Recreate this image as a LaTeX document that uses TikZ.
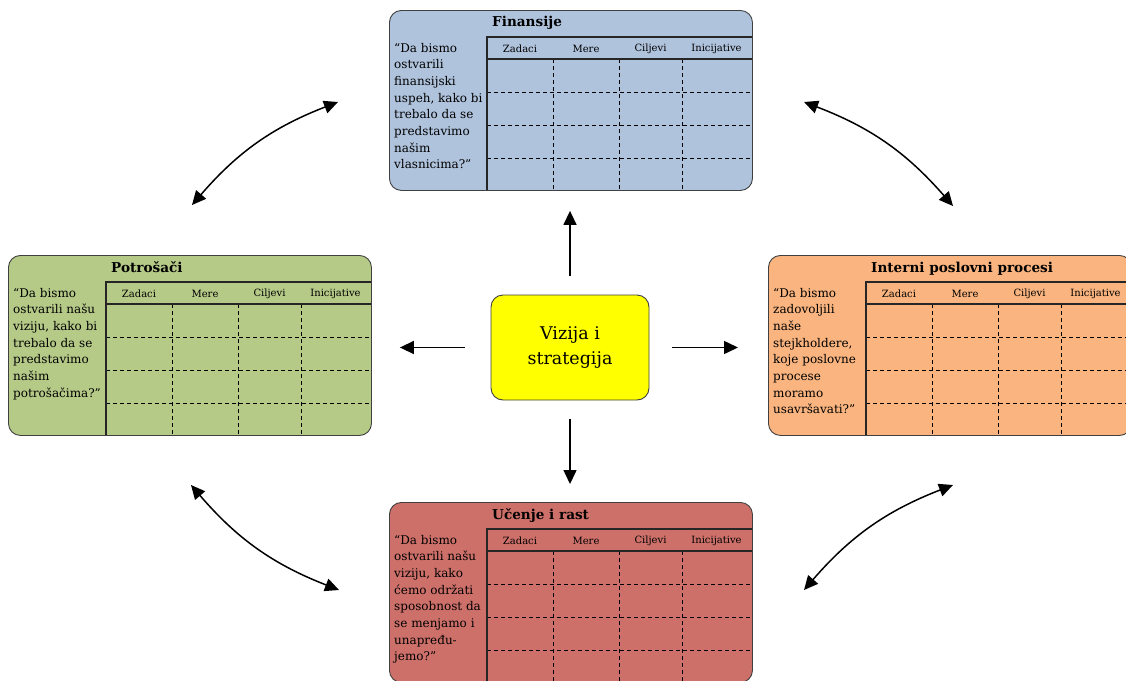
\documentclass[tikz,border=0pt]{standalone}
\usepackage{fontspec}
\setmainfont{DejaVu Serif}
\usetikzlibrary{arrows.meta}

\definecolor{finblue}{HTML}{B0C3DD}
\definecolor{potgreen}{HTML}{B6CA88}
\definecolor{intorange}{HTML}{F9B47F}
\definecolor{ucred}{HTML}{CD706A}
\definecolor{rimgray}{HTML}{404040}
\definecolor{visyellow}{HTML}{FFFF00}

\tikzset{
  panel/.style={draw=rimgray, line width=0.9pt, rounded corners=12pt,
    minimum width=363pt, minimum height=180pt, anchor=north west, inner sep=0pt},
  ptitle/.style={anchor=base west, inner sep=0pt,
    font=\fontsize{13.6}{17}\selectfont\bfseries},
  pquestion/.style={anchor=base west, inner sep=0pt,
    font=\fontsize{12}{16.7}\selectfont},
  phead/.style={anchor=center, inner sep=0pt,
    font=\fontsize{10}{12}\selectfont},
  tablerule/.style={line width=1.1pt, draw=black!85},
  tablegrid/.style={dash pattern=on 4pt off 3pt, line width=0.8pt},
  vision/.style={draw=rimgray, line width=0.9pt, rounded corners=12pt,
    fill=visyellow, minimum width=158pt, minimum height=105pt,
    align=center, inner sep=0pt, font=\fontsize{17.5}{25}\selectfont},
  link/.style={line width=1.5pt, -{Triangle[length=14pt,width=13pt]}},
  twoway/.style={line width=1.5pt,
    {Triangle[length=14pt,width=13pt]}-{Triangle[length=14pt,width=13pt]}},
}

% One scorecard perspective: rounded box, title, question and the
% Zadaci/Mere/Ciljevi/Inicijative table with three dashed rows.
% #1 name, #2 x, #3 y (top left corner), #4 fill, #5 title, #6 question
\newcommand\bscpanel[6]{%
  \begin{scope}[shift={(#2,#3)}]
    \node[panel, fill=#4] (#1) at (0,0) {};
    \node[ptitle] (#1-title) at (103,17) {#5};
    \node[pquestion] (#1-text) at (5,42) {\parbox[t]{96pt}{\raggedright #6}};
    \draw[tablegrid] (164,49) -- (164,180)
                     (230,49) -- (230,180)
                     (293,49) -- (293,180)
                     (98,82) -- (362.5,82)
                     (98,115) -- (362.5,115)
                     (98,148) -- (362.5,148);
    \draw[tablerule] (98,180) -- (98,27) -- (362.5,27);
    \draw[tablerule] (98,49) -- (362.5,49);
    \node[phead] (#1-h1) at (131,38.5) {Zadaci};
    \node[phead] (#1-h2) at (197,38.5) {Mere};
    \node[phead] (#1-h3) at (261.5,38.5) {Ciljevi};
    \node[phead] (#1-h4) at (327.5,38.5) {Inicijative};
  \end{scope}}

\begin{document}
\begin{tikzpicture}[x=1pt, y=-1pt]
  \useasboundingbox (0,0) rectangle (1126,680);

  \bscpanel{fin}{389}{10}{finblue}{Finansije}
    {“Da bismo\\ostvarili\\finansijski\\uspeh, kako bi\\trebalo da se\\predstavimo\\našim\\vlasnicima?”}
  \bscpanel{pot}{8}{255}{potgreen}{Potrošači}
    {“Da bismo\\ostvarili našu\\viziju, kako bi\\trebalo da se\\predstavimo\\našim\\potrošačima?”}
  \bscpanel{int}{768}{255}{intorange}{Interni poslovni procesi}
    {“Da bismo\\zadovoljili\\naše\\stejkholdere,\\koje poslovne\\procese\\moramo\\usavršavati?”}
  \bscpanel{uce}{389}{502}{ucred}{Učenje i rast}
    {“Da bismo\\ostvarili našu\\viziju, kako\\ćemo održati\\sposobnost da\\se menjamo i\\unapređu-\\jemo?”}

  \node[vision] (vis) at (570,347.5) {Vizija i\\strategija};

  % arrows out of the centre
  \draw[link, shorten <=19pt, shorten >=20pt] (vis.north) -- (vis.north |- fin.south);
  \draw[link, shorten <=19pt, shorten >=18pt] (vis.south) -- (vis.south |- uce.north);
  \draw[link, shorten <=26pt, shorten >=28pt] (vis.west) -- (vis.west -| pot.east);
  \draw[link, shorten <=23pt, shorten >=30pt] (vis.east) -- (vis.east -| int.west);

  % two-way links between neighbouring perspectives
  \coordinate (tl-a) at (192,205);
  \coordinate (tl-b) at (338,102);
  \coordinate (tr-a) at (804,102);
  \coordinate (tr-b) at (953,206);
  \coordinate (bl-a) at (191,485);
  \coordinate (bl-b) at (339,590);
  \coordinate (br-a) at (953,485);
  \coordinate (br-b) at (804,590);
  \draw[twoway] (tl-a) to[bend left=14] (tl-b);
  \draw[twoway] (tr-a) to[bend left=14] (tr-b);
  \draw[twoway] (bl-a) to[bend right=14] (bl-b);
  \draw[twoway] (br-a) to[bend right=14] (br-b);
\end{tikzpicture}
\end{document}
